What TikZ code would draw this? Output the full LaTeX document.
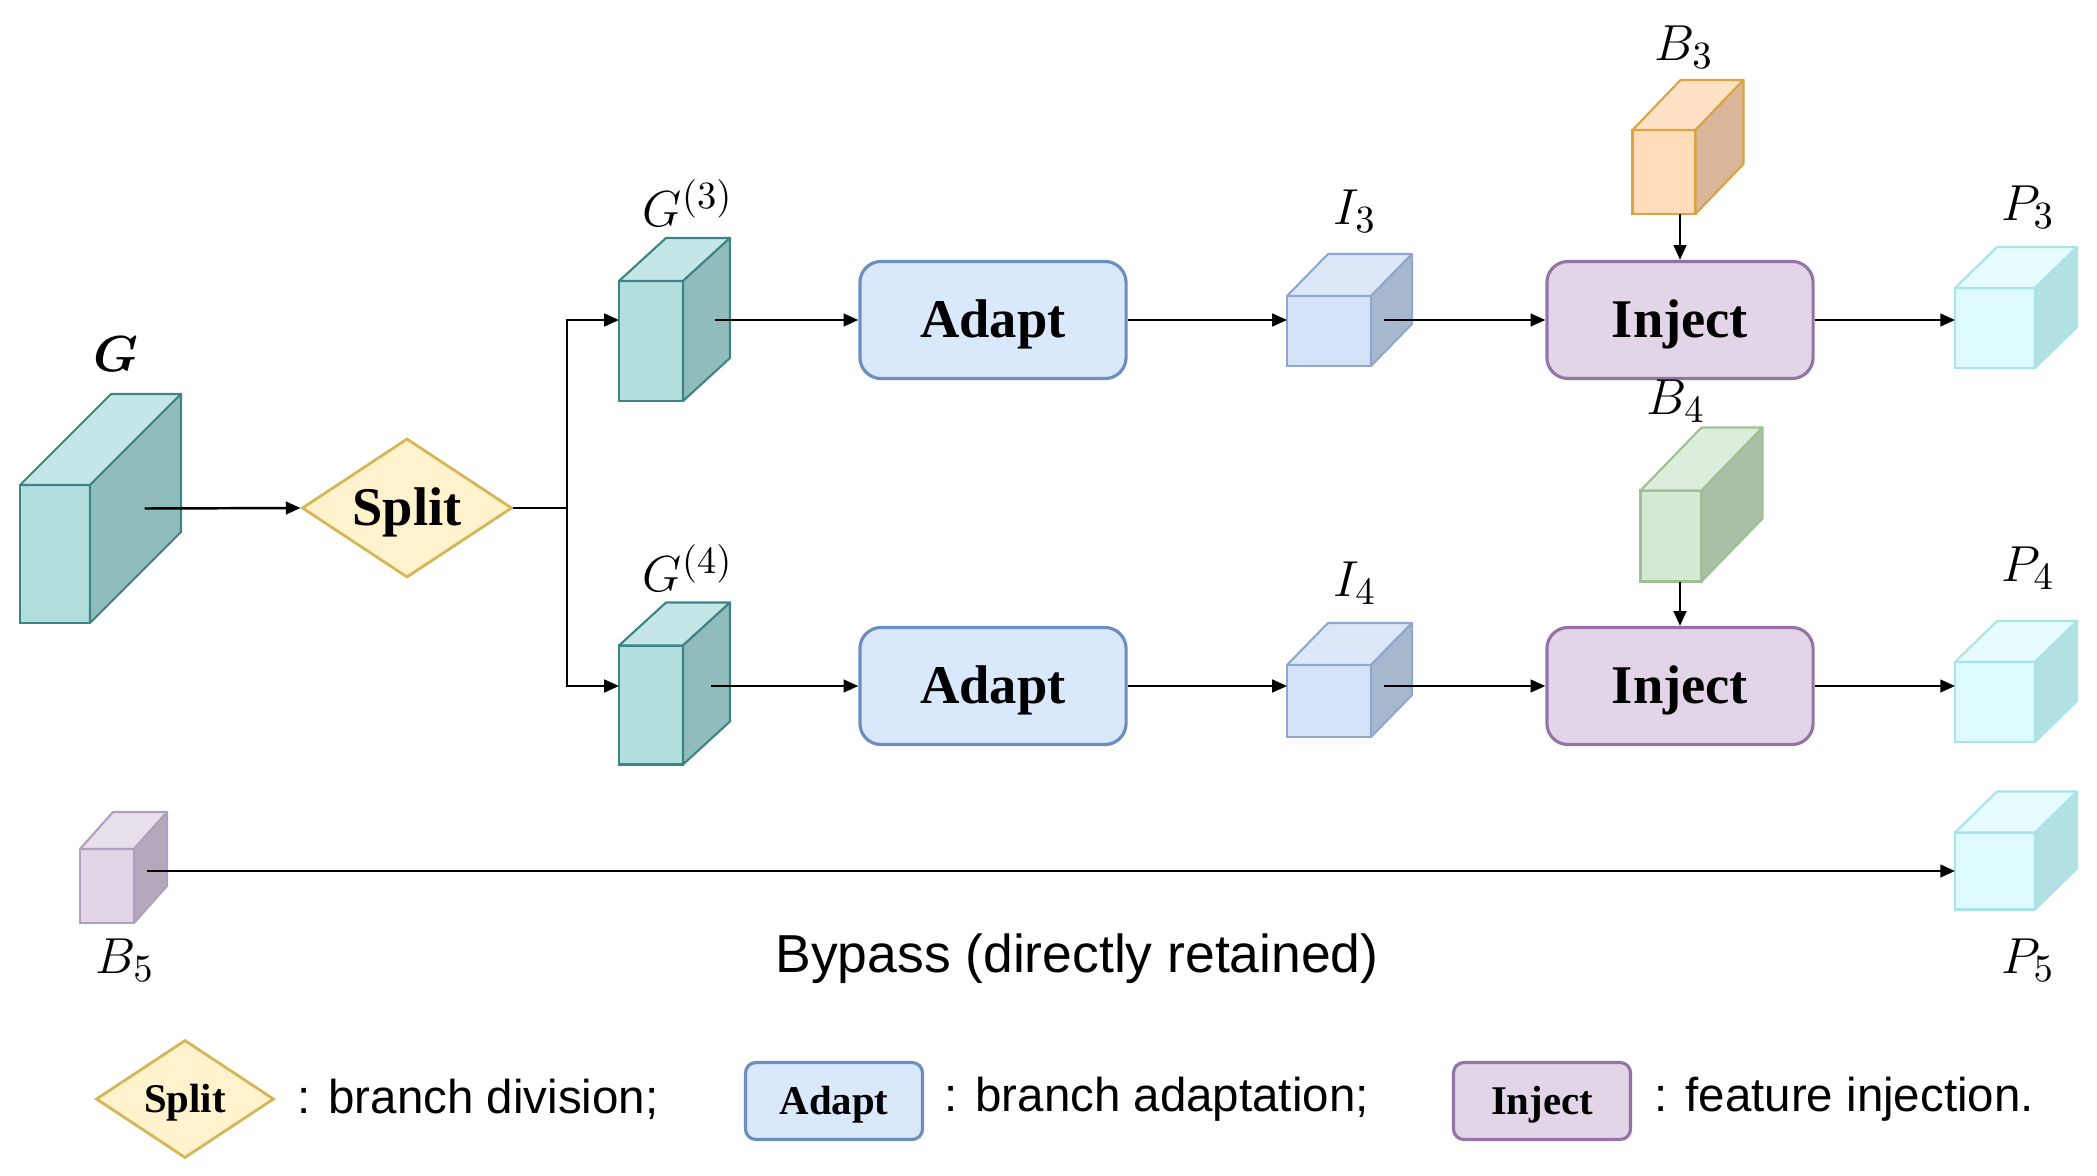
\documentclass[tikz,border=0pt]{standalone}
\usepackage{fontspec}
\setmainfont{Liberation Serif}
\newfontfamily\arialf{Liberation Sans}
\usepackage{bm}
\usetikzlibrary{shapes.geometric,arrows.meta,calc}

\definecolor{tealfront}{HTML}{B3DEDE}
\definecolor{tealside}{HTML}{90BCBC}
\definecolor{tealtop}{HTML}{C5E6E6}
\definecolor{tealedge}{HTML}{3D8585}
\definecolor{bluefront}{HTML}{D4E3F7}
\definecolor{blueside}{HTML}{A6B7CE}
\definecolor{bluetop}{HTML}{DCE7F8}
\definecolor{blueedge}{HTML}{8FA8CC}
\definecolor{cyanfront}{HTML}{DDFBFF}
\definecolor{cyanside}{HTML}{B3E0E3}
\definecolor{cyantop}{HTML}{E6FCFF}
\definecolor{cyanedge}{HTML}{A8E3EA}
\definecolor{orangefront}{HTML}{FFDDBB}
\definecolor{orangeside}{HTML}{D9B59A}
\definecolor{orangetop}{HTML}{FFE2C6}
\definecolor{orangeedge}{HTML}{D9A441}
\definecolor{greenfront}{HTML}{D5E8D4}
\definecolor{greenside}{HTML}{AABFA8}
\definecolor{greentop}{HTML}{DDEDDC}
\definecolor{greenedge}{HTML}{9FC093}
\definecolor{purplefront}{HTML}{E1D5E7}
\definecolor{purpleside}{HTML}{B5A8BD}
\definecolor{purpletop}{HTML}{E8DFEC}
\definecolor{purpleedge}{HTML}{B0A0BC}
\definecolor{adaptfill}{HTML}{DAE8FC}
\definecolor{adaptdraw}{HTML}{6C8EBF}
\definecolor{injfill}{HTML}{E1D5E7}
\definecolor{injdraw}{HTML}{9673A6}
\definecolor{splitfill}{HTML}{FFF2CC}
\definecolor{splitdraw}{HTML}{D6B656}

% name, cx, cy, w, h, dx, dy(up), colour prefix
\newcommand{\mycube}[8]{%
  \node[draw=#8edge, fill=#8front, line width=0.6pt, minimum width={#4*0.01cm},
        minimum height={#5*0.01cm}, inner sep=0pt, outer sep=0pt] (#1) at (#2,#3) {};
  \filldraw[fill=#8top, draw=#8edge, line width=0.6pt, line join=round]
    (#1.north west) -- ++(#6,-#7) -- ($(#1.north east)+(#6,-#7)$) -- (#1.north east) -- cycle;
  \filldraw[fill=#8side, draw=#8edge, line width=0.6pt, line join=round]
    (#1.north east) -- ++(#6,-#7) -- ($(#1.south east)+(#6,-#7)$) -- (#1.south east) -- cycle;
  \coordinate (#1-r) at ($(#1.east)+(0.5*#6,-0.5*#7)$);
}

\begin{document}
\begin{tikzpicture}[x=0.01cm,y=-0.01cm,
  arr/.style={-{Triangle[length=4.2pt,width=3.6pt]}, line width=0.7pt},
  plain/.style={line width=0.7pt},
  proc/.style={rounded corners=6pt, line width=0.9pt, minimum width=2.66cm,
     minimum height=1.17cm, inner sep=0pt, text height=10.2pt, text depth=0pt,
     font=\fontsize{15.5}{18}\selectfont\bfseries},
  adaptbox/.style={proc, fill=adaptfill, draw=adaptdraw},
  injbox/.style={proc, fill=injfill, draw=injdraw},
  splitbox/.style={shape=diamond, aspect=1.5, fill=splitfill, draw=splitdraw, line width=0.8pt,
     inner sep=0pt, minimum width=2.10cm, minimum height=1.39cm,
     text height=10.2pt, text depth=0pt,
     font=\fontsize{15.5}{18}\selectfont\bfseries},
  lbl/.style={inner sep=0pt, font=\fontsize{15}{18}\selectfont},
  legbox/.style={rounded corners=3pt, line width=0.9pt, minimum width=1.77cm,
     minimum height=0.77cm, inner sep=0pt, text height=7.7pt, text depth=0pt,
     font=\fontsize{11.6}{14}\selectfont\bfseries},
  legtxt/.style={inner sep=0pt, anchor=west, font=\arialf\fontsize{13.5}{16}\selectfont},
]
\useasboundingbox (0,0) rectangle (2097,1176);

% ---------- cubes ----------
\mycube{g}{55}{554}{70}{138}{91}{91}{teal}
\mycube{gthree}{651}{341}{64}{120}{47}{43}{teal}
\mycube{gfour}{651}{705}{64}{119}{47}{43}{teal}
\mycube{ithree}{1329}{331}{84}{70}{41}{42}{blue}
\mycube{ifour}{1329}{701}{84}{72}{41}{42}{blue}
\mycube{bthree}{1664}{172}{63}{84}{48}{50}{orange}
\mycube{bfour}{1671}{536}{61}{91}{61}{63}{green}
\mycube{pthree}{1995}{328}{80}{80}{42}{41}{cyan}
\mycube{pfour}{1995}{702}{80}{80}{42}{41}{cyan}
\mycube{pfive}{1995}{871}{80}{77}{42}{41}{cyan}
\mycube{bfive}{107}{886}{54}{74}{33}{37}{purple}

% ---------- process nodes ----------
\node[splitbox] (split) at (407,508) {Split};
\node[adaptbox] (adapt1) at (993,320) {Adapt};
\node[adaptbox] (adapt2) at (993,686) {Adapt};
\node[injbox] (inject1) at (1680,320) {Inject};
\node[injbox] (inject2) at (1680,686) {Inject};

% ---------- labels ----------
\node[lbl] (lg) at (116,354) {$\bm{G}$};
\node[lbl] (lg3) at (688,203) {$G^{(3)}$};
\node[lbl] (lg4) at (688,568) {$G^{(4)}$};
\node[lbl] (li3) at (1355,211) {$I_3$};
\node[lbl] (li4) at (1355,583) {$I_4$};
\node[lbl] (lb3) at (1684,47) {$B_3$};
\node[lbl] (lb4) at (1676,401) {$B_4$};
\node[lbl] (lp3) at (2028,207) {$P_3$};
\node[lbl] (lp4) at (2028,568) {$P_4$};
\node[lbl] (lp5) at (2028,960) {$P_5$};
\node[lbl] (lb5) at (125,960) {$B_5$};
\node[inner sep=0pt, font=\arialf\fontsize{15.2}{18}\selectfont] (bypass) at (1077,959) {Bypass (directly retained)};

% ---------- connectors ----------
\coordinate (go) at ($(g-r)+(9,0)$);
\draw[arr] (go) -- (split.west);
\coordinate (br) at (567,508);
\draw[plain] (split.east) -- (br);
\draw[arr] (br) |- (gthree.west |- adapt1.west);
\draw[arr] (br) |- (gfour.west |- adapt2.west);

\coordinate (g3o) at ($(gthree.east |- adapt1.west)+(32,0)$);
\draw[arr] (g3o) -- (adapt1.west);
\coordinate (g4o) at ($(gfour.east |- adapt2.west)+(28,0)$);
\draw[arr] (g4o) -- (adapt2.west);

\draw[arr] (adapt1.east) -- (ithree.west |- adapt1.east);
\draw[arr] (adapt2.east) -- (ifour.west |- adapt2.east);

\coordinate (i3o) at ($(ithree.east |- inject1.west)+(13,0)$);
\draw[arr] (i3o) -- (inject1.west);
\coordinate (i4o) at ($(ifour.east |- inject2.west)+(13,0)$);
\draw[arr] (i4o) -- (inject2.west);

\draw[arr] (inject1.east) -- (pthree.west |- inject1.east);
\draw[arr] (inject2.east) -- (pfour.west |- inject2.east);

\draw[arr] (inject1.north |- bthree.south) -- (inject1.north);
\draw[arr] (inject2.north |- bfour.south) -- (inject2.north);

\coordinate (b5o) at ($(bfive.east)+(13,-15)$);
\draw[arr] (b5o) -- (pfive.west |- b5o);

% ---------- legend ----------
\node[splitbox, minimum width=1.78cm, minimum height=1.18cm, text height=7.7pt,
      font=\fontsize{11.6}{14}\selectfont\bfseries] (legsplit) at (185,1099) {Split};
\node[legtxt] (legsplitt) at (297,1099) {: branch division;};
\node[legbox, fill=adaptfill, draw=adaptdraw] (legadapt) at (834,1101) {Adapt};
\node[legtxt] (legadaptt) at (944,1099) {: branch adaptation;};
\node[legbox, fill=injfill, draw=injdraw] (leginj) at (1542,1101) {Inject};
\node[legtxt] (leginjt) at (1654,1099) {: feature injection.};
\end{tikzpicture}
\end{document}
